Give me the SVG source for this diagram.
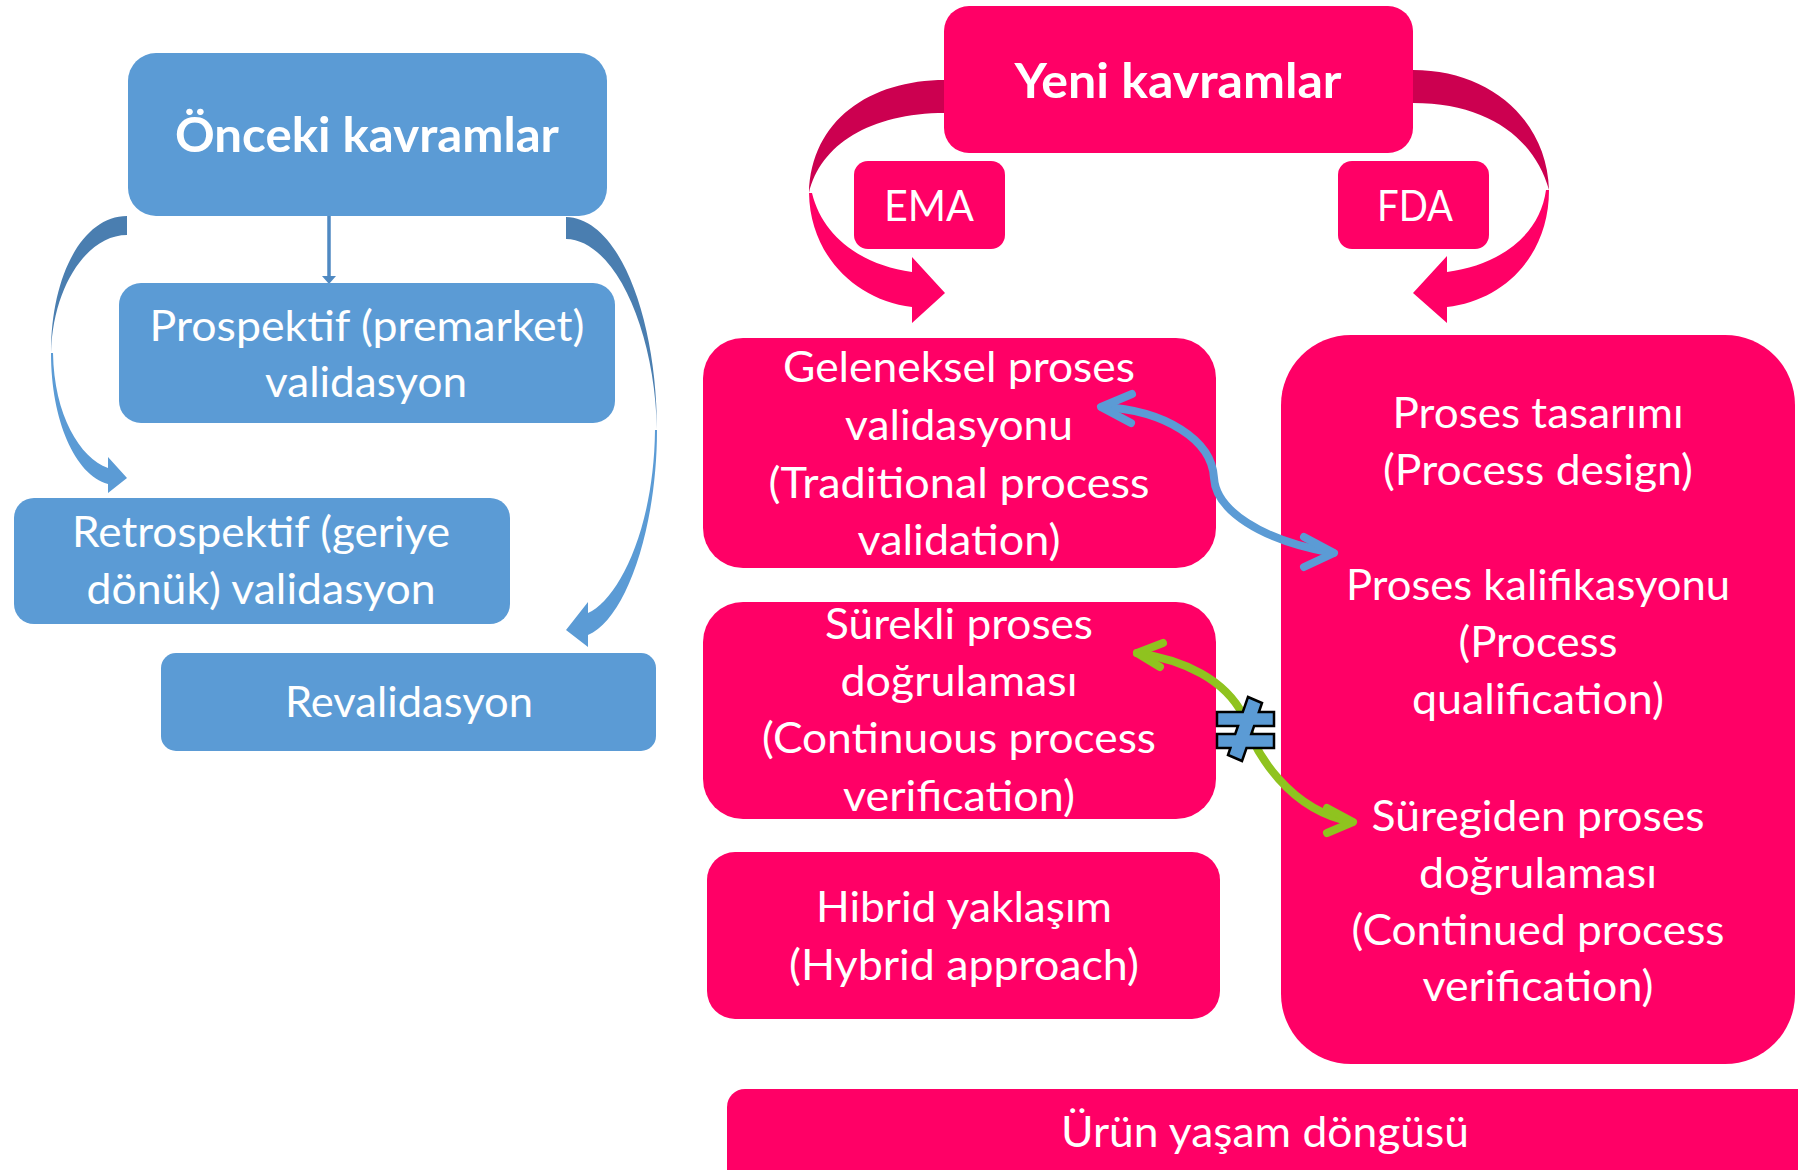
<svg xmlns="http://www.w3.org/2000/svg" width="1798" height="1170" viewBox="0 0 1798 1170">
<style>
.blue{fill:#5B9BD5}
.pink{fill:#FF0066}
.bdark{fill:#4A7EB0}
.pdark{fill:#CC0050}
text{fill:#FFFFFF;font-family:Lato,"Open Sans","Liberation Sans",sans-serif;text-anchor:middle}
.t{font-size:42px}
.b{font-size:48px;font-weight:bold}
.lnk{fill:none;stroke-width:8;stroke-linecap:round;stroke-linejoin:round}
</style>
<rect width="1798" height="1170" fill="#FFFFFF"/>
<g id="connectors">
  <path class="bdark" d="M127,216 C83,216 51,275 51,353 C53,285 88,235 127,235 Z"/>
  <path class="blue" d="M51,353 C51,420 75,475 108,484 L108,493 L127,478 L108,457 L108,468 C80,458 54,415 53,353 Z"/>
  <path class="bdark" d="M566,217 C620,218 657,320 657,430 C655,330 615,240 566,239 Z"/>
  <path class="blue" d="M657,430 C657,530 625,620 588,635 L588,647 L566,630 L588,602 L588,613 C618,600 654,530 655,430 Z"/>
  <line x1="329" y1="214" x2="329" y2="278" stroke="#4F89C2" stroke-width="3.5"/>
  <polygon points="322,276 336,276 329,284" fill="#4F89C2"/>
  <path class="pdark" d="M945,80 C870,80 811,120 809,193 C820,145 870,113 945,113 Z"/>
  <path class="pink" d="M809,193 C810,255 855,300 912,307 L912,323 L945,293 L912,257 L912,272 C860,265 822,235 812,193 Z"/>
  <path class="pdark" d="M1413,70 C1490,70 1547,120 1549,190 C1535,140 1490,103 1413,103 Z"/>
  <path class="pink" d="M1549,190 C1549,255 1505,300 1447,307 L1447,323 L1413,293 L1447,256 L1447,272 C1500,265 1540,235 1546,190 Z"/>
</g>
<g id="n-onceki"><rect class="blue" x="128" y="53" width="479" height="163" rx="28"/>
  <text class="b" x="367" y="152" textLength="384" lengthAdjust="spacingAndGlyphs">Önceki kavramlar</text></g>
<g id="n-prospektif"><rect class="blue" x="119" y="283" width="496" height="140" rx="22"/>
  <text class="t" x="367" y="341" textLength="435" lengthAdjust="spacingAndGlyphs">Prospektif (premarket)</text>
  <text class="t" x="366" y="397" textLength="202" lengthAdjust="spacingAndGlyphs">validasyon</text></g>
<g id="n-retrospektif"><rect class="blue" x="14" y="498" width="496" height="126" rx="20"/>
  <text class="t" x="261" y="547" textLength="378" lengthAdjust="spacingAndGlyphs">Retrospektif (geriye</text>
  <text class="t" x="261" y="604" textLength="349" lengthAdjust="spacingAndGlyphs">dönük) validasyon</text></g>
<g id="n-revalidasyon"><rect class="blue" x="161" y="653" width="495" height="98" rx="15"/>
  <text class="t" x="409" y="717" textLength="248" lengthAdjust="spacingAndGlyphs">Revalidasyon</text></g>
<g id="n-yeni"><rect class="pink" x="944" y="6" width="469" height="147" rx="25"/>
  <text class="b" x="1178" y="98" textLength="327" lengthAdjust="spacingAndGlyphs">Yeni kavramlar</text></g>
<g id="n-ema"><rect class="pink" x="854" y="161" width="151" height="88" rx="14"/>
  <text class="t" x="929" y="221" textLength="90" lengthAdjust="spacingAndGlyphs">EMA</text></g>
<g id="n-fda"><rect class="pink" x="1338" y="161" width="151" height="88" rx="14"/>
  <text class="t" x="1415" y="221" textLength="76" lengthAdjust="spacingAndGlyphs">FDA</text></g>
<g id="n-geleneksel"><rect class="pink" x="703" y="338" width="513" height="230" rx="40"/>
  <text class="t" x="959" y="382" textLength="352" lengthAdjust="spacingAndGlyphs">Geleneksel proses</text>
  <text class="t" x="959" y="440" textLength="228" lengthAdjust="spacingAndGlyphs">validasyonu</text>
  <text class="t" x="959" y="498" textLength="381" lengthAdjust="spacingAndGlyphs">(Traditional process</text>
  <text class="t" x="959" y="555" textLength="203" lengthAdjust="spacingAndGlyphs">validation)</text></g>
<g id="n-surekli"><rect class="pink" x="703" y="602" width="513" height="217" rx="40"/>
  <text class="t" x="959" y="639" textLength="268" lengthAdjust="spacingAndGlyphs">Sürekli proses</text>
  <text class="t" x="959" y="696" textLength="237" lengthAdjust="spacingAndGlyphs">doğrulaması</text>
  <text class="t" x="959" y="753" textLength="394" lengthAdjust="spacingAndGlyphs">(Continuous process</text>
  <text class="t" x="959" y="811" textLength="232" lengthAdjust="spacingAndGlyphs">verification)</text></g>
<g id="n-hibrid"><rect class="pink" x="707" y="852" width="513" height="167" rx="28"/>
  <text class="t" x="964" y="922" textLength="296" lengthAdjust="spacingAndGlyphs">Hibrid yaklaşım</text>
  <text class="t" x="964" y="980" textLength="350" lengthAdjust="spacingAndGlyphs">(Hybrid approach)</text></g>
<g id="n-fdabox"><rect class="pink" x="1281" y="335" width="514" height="729" rx="70"/>
  <text class="t" x="1538" y="428" textLength="291" lengthAdjust="spacingAndGlyphs">Proses tasarımı</text>
  <text class="t" x="1538" y="485" textLength="310" lengthAdjust="spacingAndGlyphs">(Process design)</text>
  <text class="t" x="1538" y="600" textLength="384" lengthAdjust="spacingAndGlyphs">Proses kalifikasyonu</text>
  <text class="t" x="1538" y="657" textLength="159" lengthAdjust="spacingAndGlyphs">(Process</text>
  <text class="t" x="1538" y="714" textLength="252" lengthAdjust="spacingAndGlyphs">qualification)</text>
  <text class="t" x="1538" y="831" textLength="333" lengthAdjust="spacingAndGlyphs">Süregiden proses</text>
  <text class="t" x="1538" y="888" textLength="238" lengthAdjust="spacingAndGlyphs">doğrulaması</text>
  <text class="t" x="1538" y="945" textLength="373" lengthAdjust="spacingAndGlyphs">(Continued process</text>
  <text class="t" x="1538" y="1001" textLength="231" lengthAdjust="spacingAndGlyphs">verification)</text></g>
<g id="n-urun"><rect class="pink" x="727" y="1089" width="1090" height="110" rx="18"/>
  <text class="t" x="1265" y="1147" textLength="408" lengthAdjust="spacingAndGlyphs">Ürün yaşam döngüsü</text></g>
<g id="links">
  <path class="lnk" stroke="#5B9BD5" d="M1102,407 C1165,410 1212,440 1214,478 C1216,510 1260,540 1333,553"/>
  <polyline class="lnk" stroke="#5B9BD5" points="1132,394 1101,407 1131,423"/>
  <polyline class="lnk" stroke="#5B9BD5" points="1304,537 1334,553 1304,567"/>
  <path class="lnk" stroke="#8FC31F" stroke-width="7" d="M1137,653 C1185,660 1225,680 1243,715 C1255,755 1290,810 1352,822"/>
  <polyline class="lnk" stroke="#8FC31F" stroke-width="7" points="1163,643 1137,653 1160,667"/>
  <polyline class="lnk" stroke="#8FC31F" stroke-width="7" points="1327,808 1353,822 1327,833"/>
</g>
<g id="n-notequal">
  <path fill="#5B9BD5" stroke="#000000" stroke-width="2.5" stroke-linejoin="miter" d="M1248,697 L1262,703 L1258.9,712 L1274,712 L1274,726 L1254.1,726 L1251.3,734 L1274,734 L1274,748 L1246.5,748 L1242,761 L1228,755 L1230.4,748 L1217,748 L1217,734 L1235.2,734 L1238,726 L1217,726 L1217,712 L1242.8,712 Z"/>
</g>
</svg>
